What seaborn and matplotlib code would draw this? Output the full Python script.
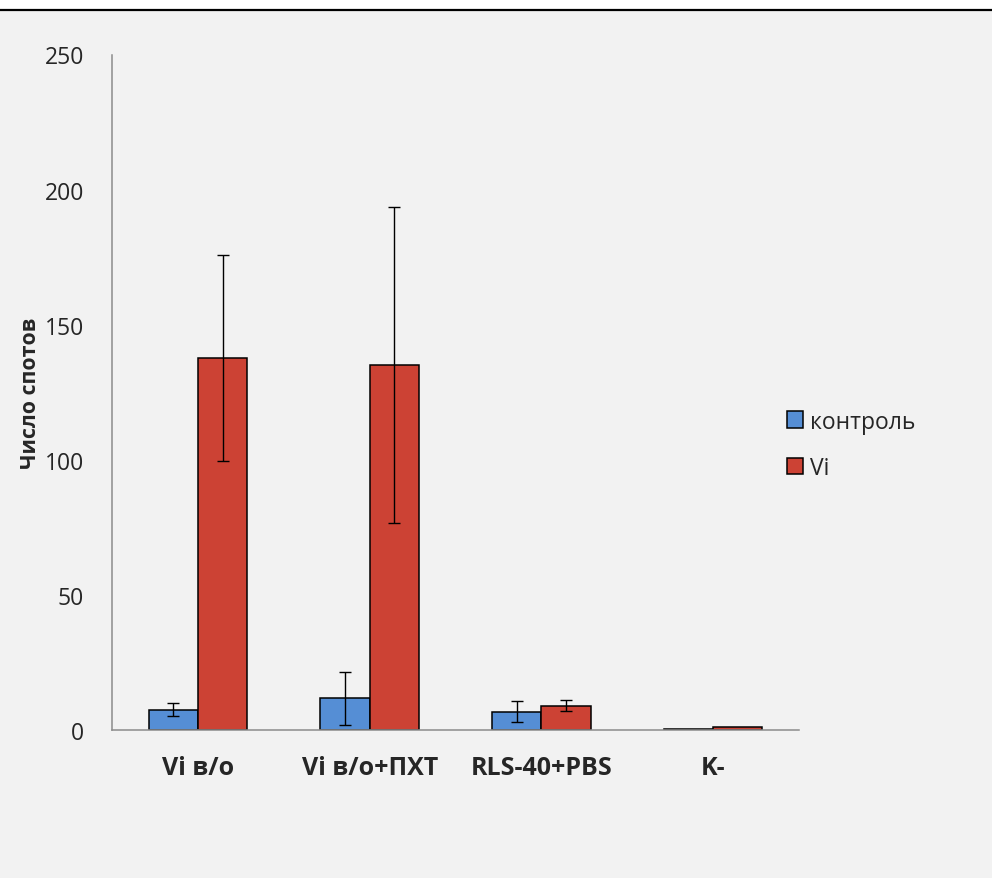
import pandas as pd
import numpy as np
import seaborn as sns
import matplotlib.pyplot as plt
from matplotlib.patches import Rectangle
from matplotlib.lines import Line2D

# данные
groups = ['Vi в/о', 'Vi в/о+ПХТ', 'RLS-40+PBS', 'K-']
series = ['контроль', 'Vi']
control = [7.5, 11.7, 6.8, 0.2]
control_err = [2.4, 9.9, 3.8, 0.0]
vi = [137.7, 135.2, 9.0, 1.0]
vi_err = [38.1, 58.5, 2.1, 0.0]
colors = ['#558ED5', '#CC4234']

df = pd.DataFrame({
    'group': groups * 2,
    'series': [series[0]] * len(groups) + [series[1]] * len(groups),
    'value': control + vi,
})
errs = [control_err, vi_err]

sns.set_style('white')
plt.rcParams['font.family'] = ['Open Sans', 'DejaVu Sans']

W, H = 992, 879
fig = plt.figure(figsize=(W / 100, H / 100), dpi=100, facecolor='#F2F2F2')
ax = fig.add_axes([112 / W, 1 - 731 / H, (799 - 112) / W, (731 - 55.5) / H])
ax.set_facecolor('#F2F2F2')

# белая полоса и черная линия сверху
fig.patches.append(Rectangle((0, 1 - 10 / H), 1, 10 / H, transform=fig.transFigure,
                             facecolor='white', edgecolor='none', zorder=0))
fig.lines.append(Line2D([0, 1], [1 - 11 / H, 1 - 11 / H], transform=fig.transFigure,
                        color='black', lw=1.6))

sns.barplot(data=df, x='group', y='value', hue='series', palette=colors,
            width=0.574, edgecolor='black', linewidth=1.1, errorbar=None,
            saturation=1, ax=ax)

# планки погрешностей
for cont, err in zip(ax.containers, errs):
    for bar, e in zip(cont, err):
        if e <= 0:
            continue
        xc = bar.get_x() + bar.get_width() / 2
        ax.errorbar(xc, bar.get_height(), yerr=e, fmt='none', ecolor='black',
                    elinewidth=1.0, capsize=4.5, capthick=1.0, zorder=5)

ax.set_xlim(-0.5, len(groups) - 0.5)
ax.set_ylim(0, 250)
ax.set_yticks(np.arange(0, 251, 50))
ax.set_xticks(np.arange(len(groups) + 1) - 0.5, minor=True)
ax.tick_params(axis='x', which='major', length=0, pad=18, labelsize=18)
ax.tick_params(axis='x', which='minor', length=7, width=1.1, color='#8C8C8C', direction='out')
ax.tick_params(axis='y', length=7, width=1.1, color='#8C8C8C', direction='out',
               pad=13, labelsize=16.5)
for lbl in ax.get_xticklabels():
    lbl.set_fontweight('bold')

for s in ['top', 'right']:
    ax.spines[s].set_visible(False)
for s in ['left', 'bottom']:
    ax.spines[s].set_color('#8C8C8C')
    ax.spines[s].set_linewidth(1.1)

ax.set_xlabel('')
ax.set_ylabel('Число спотов', fontsize=15.4, fontweight='bold', labelpad=3)

handles, labels = ax.get_legend_handles_labels()
ax.get_legend().remove()
fig.legend(handles, labels, loc='center left', bbox_to_anchor=(787 / W, 1 - 446 / H),
           frameon=False, fontsize=16.5, handlelength=0.7, handleheight=0.7,
           handletextpad=0.3, labelspacing=1.0, borderpad=0, borderaxespad=0)

fig.savefig('out.png', dpi=100, facecolor=fig.get_facecolor())
